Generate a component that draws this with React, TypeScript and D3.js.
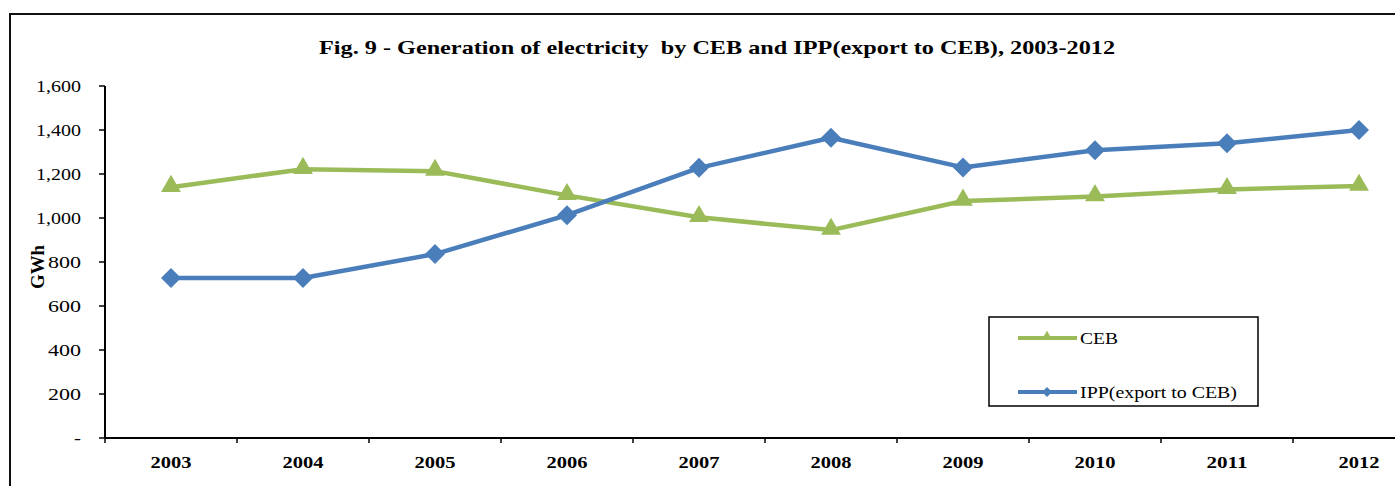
import * as d3 from 'd3';

const years = ['2003', '2004', '2005', '2006', '2007', '2008', '2009', '2010', '2011', '2012'];
const ceb = [1140, 1222, 1213, 1103, 1003, 945, 1077, 1098, 1130, 1145];
const ipp = [727, 727, 836, 1013, 1228, 1365, 1230, 1308, 1340, 1400];
const yTicks = [0, 200, 400, 600, 800, 1000, 1200, 1400, 1600];

const GREEN = '#9BBB59';
const BLUE = '#4A7EBB';
const FONT = '"Liberation Serif", "Times New Roman", serif';

export default function App() {
  const width = 1395;
  const height = 486;
  const plotLeft = 105;
  const band = 132;
  const plotTop = 86;
  const plotBottom = 438;

  const x = d3
    .scaleBand<string>()
    .domain(years)
    .range([plotLeft, plotLeft + band * years.length]);
  const y = d3.scaleLinear([0, 1600], [plotBottom, plotTop]);
  const cx = (i: number) => (x(years[i]) ?? 0) + x.bandwidth() / 2;

  const line = d3
    .line<number>()
    .x((_, i) => cx(i))
    .y((d) => y(d));

  const tri = d3.symbol(d3.symbolTriangle, 170);
  const dia = (s: number) => `M0,${-s}L${s},0L0,${s}L${-s},0Z`;

  const fmt = (v: number) => (v === 0 ? '-' : d3.format(',')(v));
  const tickW = (v: number) => (v === 0 ? 7 : v >= 1000 ? 45 : 33);

  return (
    <svg
      width={width}
      height={height}
      style={{ position: 'absolute', left: 0, top: 0, display: 'block', background: '#fff' }}
      fontFamily={FONT}
    >
      {/* outer frame */}
      <rect x={10} y={14} width={1400} height={500} fill="none" stroke="#111" strokeWidth={2} />

      <text
        x={319}
        y={54}
        fontSize={19}
        fontWeight="bold"
        textLength={796}
        lengthAdjust="spacingAndGlyphs"
      >
        Fig. 9 - Generation of electricity&#160; by CEB and IPP(export to CEB), 2003-2012
      </text>

      {/* y axis */}
      <line x1={plotLeft} x2={plotLeft} y1={plotTop} y2={plotBottom} stroke="#000" strokeWidth={2} />
      {yTicks.map((t) => (
        <g key={t}>
          <line x1={plotLeft - 6} x2={plotLeft} y1={y(t)} y2={y(t)} stroke="#000" strokeWidth={1.5} />
          <text
            x={81 - tickW(t)}
            y={y(t)}
            dy="0.35em"
            fontSize={17}
            textLength={tickW(t)}
            lengthAdjust="spacingAndGlyphs"
          >
            {fmt(t)}
          </text>
        </g>
      ))}
      <text
        transform={`translate(44,${(plotTop + plotBottom) / 2 + 5}) rotate(-90)`}
        x={-22}
        fontSize={18}
        fontWeight="bold"
        textLength={44}
        lengthAdjust="spacingAndGlyphs"
      >
        GWh
      </text>

      {/* x axis */}
      <line x1={plotLeft} x2={width} y1={plotBottom} y2={plotBottom} stroke="#000" strokeWidth={2} />
      {years.map((yr, i) => (
        <g key={yr}>
          <line
            x1={x(yr)}
            x2={x(yr)}
            y1={plotBottom}
            y2={plotBottom + 5}
            stroke="#000"
            strokeWidth={1.5}
          />
          <text
            x={cx(i) - 20.5}
            y={468}
            fontSize={17}
            fontWeight="bold"
            textLength={41}
            lengthAdjust="spacingAndGlyphs"
          >
            {yr}
          </text>
        </g>
      ))}

      {/* series */}
      <path d={line(ceb) ?? ''} fill="none" stroke={GREEN} strokeWidth={4.5} strokeLinejoin="round" />
      {ceb.map((v, i) => (
        <path key={i} d={tri() ?? ''} transform={`translate(${cx(i)},${y(v) - 1})`} fill={GREEN} />
      ))}
      <path d={line(ipp) ?? ''} fill="none" stroke={BLUE} strokeWidth={4.5} strokeLinejoin="round" />
      {ipp.map((v, i) => (
        <path key={i} d={dia(10)} transform={`translate(${cx(i)},${y(v)})`} fill={BLUE} />
      ))}

      {/* legend */}
      <rect x={989} y={317} width={269} height={89} fill="#fff" stroke="#000" strokeWidth={1.5} />
      <line x1={1018} x2={1077} y1={338} y2={338} stroke={GREEN} strokeWidth={4} />
      <path d={d3.symbol(d3.symbolTriangle, 50)() ?? ''} transform="translate(1047,337)" fill={GREEN} />
      <text x={1080} y={338} dy="0.35em" fontSize={17} textLength={38} lengthAdjust="spacingAndGlyphs">
        CEB
      </text>
      <line x1={1018} x2={1077} y1={392} y2={392} stroke={BLUE} strokeWidth={4} />
      <path d={dia(5)} transform="translate(1047,392)" fill={BLUE} />
      <text x={1080} y={392} dy="0.35em" fontSize={17} textLength={157} lengthAdjust="spacingAndGlyphs">
        IPP(export to CEB)
      </text>
    </svg>
  );
}
